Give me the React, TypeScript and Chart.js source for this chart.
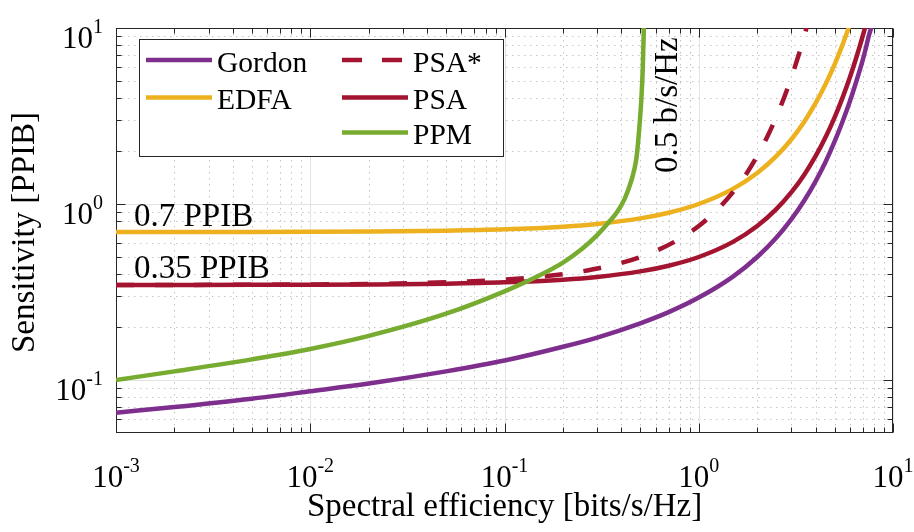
import { useEffect, useRef } from "react";
import { Chart, registerables } from "chart.js";

Chart.register(...registerables);

// Spectral efficiency [bits/s/Hz] and sensitivity [PPIB] for each receiver
const gordonSE = [0.001, 0.002, 0.005, 0.01, 0.02, 0.05, 0.1, 0.2, 0.3, 0.5, 0.7, 1, 1.5, 2, 2.5, 3, 3.5, 4, 4.5, 5, 5.5, 6, 6.5, 7, 7.25, 7.5, 7.75, 8];
const gordonPPIB = [0.0652, 0.0702, 0.0783, 0.0863, 0.0955, 0.112, 0.129, 0.1545, 0.1743, 0.21, 0.243, 0.294, 0.387, 0.5, 0.64, 0.82, 1.051, 1.35, 1.738, 2.26, 2.945, 3.833, 5.046, 6.64, 7.7, 9.0, 10.19, 12.0];

const edfaSE = [0.001, 0.002, 0.005, 0.01, 0.02, 0.05, 0.1, 0.2, 0.3, 0.5, 0.7, 1, 1.5, 2, 2.5, 3, 3.5, 4, 4.5, 5, 5.5, 6];
const edfaPPIB = [0.693, 0.6936, 0.6943, 0.6956, 0.698, 0.7052, 0.7177, 0.7435, 0.7705, 0.8284, 0.8922, 1.0, 1.219, 1.5, 1.863, 2.333, 2.947, 3.75, 4.806, 6.2, 8.046, 10.5];

const psaStarSE = [0.001, 0.002, 0.005, 0.01, 0.02, 0.05, 0.1, 0.15, 0.2, 0.25, 0.35, 0.5, 0.75, 1, 1.25, 1.5, 1.75, 2, 2.25, 2.5, 2.75, 3, 3.25, 3.5, 3.75];
const psaStarPPIB = [0.3468, 0.347, 0.3478, 0.349, 0.3514, 0.3589, 0.3718, 0.3853, 0.3994, 0.4142, 0.4461, 0.5, 0.6095, 0.75, 0.9314, 1.167, 1.473, 1.875, 2.403, 3.1, 4.023, 5.25, 6.885, 9.071, 12.0];

const psaSE = [0.001, 0.002, 0.005, 0.01, 0.02, 0.05, 0.1, 0.2, 0.3, 0.5, 0.7, 1, 1.5, 2, 2.5, 3, 3.5, 4, 4.5, 5, 5.5, 6, 6.5, 7, 7.5];
const psaPPIB = [0.3467, 0.3468, 0.3472, 0.3478, 0.349, 0.3526, 0.3589, 0.3718, 0.3853, 0.4142, 0.4461, 0.5, 0.6095, 0.75, 0.9314, 1.167, 1.473, 1.875, 2.403, 3.1, 4.023, 5.25, 6.885, 9.071, 12.0];

const ppmSE = [0.001, 0.002, 0.005, 0.01, 0.02, 0.05, 0.1, 0.15, 0.2, 0.25, 0.3, 0.345, 0.38, 0.417, 0.45, 0.465, 0.4786, 0.495, 0.5077, 0.515, 0.52, 0.523];
const ppmPPIB = [0.1, 0.112, 0.131, 0.15, 0.178, 0.238, 0.319, 0.391, 0.465, 0.555, 0.666, 0.79, 0.9, 1.08, 1.36, 1.56, 1.85, 2.76, 4.14, 5.9, 8.7, 12.3];

const xDecades = [-3, -2, -1, 0, 1];
const yDecades = [-1, 0, 1];
const xMin = 0.001;
const xMax = 10;
const yMin = 0.05;
const yMax = 10;

const seriesNames = ["Gordon", "EDFA", "PSA*", "PSA", "PPM"];
const COLORS = {
  Gordon: "#7E2F8E",
  EDFA: "#EDB120",
  PSA: "#A2142F",
  PPM: "#77AC30",
};

const xTitle = "Spectral efficiency [bits/s/Hz]";
const yTitle = "Sensitivity [PPIB]";
const edfaNote = "0.7 PPIB";
const psaNote = "0.35 PPIB";
const ppmNote = "0.5 b/s/Hz";

const SERIF = '"Liberation Serif", "Times New Roman", serif';
const AXIS_COLOR = "#262626";
const LINE_W = 4.5;

function pts(xs: number[], ys: number[]) {
  return xs.map((x, i) => ({ x, y: ys[i] }));
}

function minorValues(lo: number, hi: number) {
  const out: number[] = [];
  for (let d = -4; d <= 1; d++) {
    for (let m = 2; m <= 9; m++) {
      const v = m * Math.pow(10, d);
      if (v > lo * 1.0001 && v < hi * 0.9999) out.push(v);
    }
  }
  return out;
}

function powerLabel(ctx: CanvasRenderingContext2D, exp: number) {
  ctx.font = `31px ${SERIF}`;
  const wb = ctx.measureText("10").width;
  ctx.font = `20px ${SERIF}`;
  const we = ctx.measureText(String(exp)).width;
  return { wb, we, total: wb + we };
}

function drawPower(ctx: CanvasRenderingContext2D, exp: number, left: number, baseline: number) {
  const m = powerLabel(ctx, exp);
  ctx.fillStyle = "#000";
  ctx.textAlign = "left";
  ctx.textBaseline = "alphabetic";
  ctx.font = `31px ${SERIF}`;
  ctx.fillText("10", left, baseline);
  ctx.font = `20px ${SERIF}`;
  ctx.fillText(String(exp), left + m.wb, baseline - 15);
}

const framePlugin = {
  id: "frame",
  beforeDatasetsDraw(chart: any) {
    const { ctx, chartArea: a, scales } = chart;
    const sx = scales.x;
    const sy = scales.y;
    const px = (v: number) => Math.round(sx.getPixelForValue(v)) + 0.5;
    const py = (v: number) => Math.round(sy.getPixelForValue(v)) + 0.5;
    ctx.save();
    ctx.fillStyle = "#fff";
    ctx.fillRect(a.left, a.top, a.right - a.left, a.bottom - a.top);

    // minor grid (dotted)
    ctx.strokeStyle = "#c4c4c4";
    ctx.lineWidth = 1;
    ctx.setLineDash([1.5, 4.5]);
    ctx.beginPath();
    for (const v of minorValues(xMin, xMax)) {
      const x = px(v);
      ctx.moveTo(x, a.top);
      ctx.lineTo(x, a.bottom);
    }
    for (const v of minorValues(yMin, yMax)) {
      const y = py(v);
      ctx.moveTo(a.left, y);
      ctx.lineTo(a.right, y);
    }
    ctx.stroke();

    // major grid (solid)
    ctx.setLineDash([]);
    ctx.strokeStyle = "#e3e3e3";
    ctx.beginPath();
    for (const d of xDecades) {
      const x = px(Math.pow(10, d));
      ctx.moveTo(x, a.top);
      ctx.lineTo(x, a.bottom);
    }
    for (const d of yDecades) {
      const y = py(Math.pow(10, d));
      ctx.moveTo(a.left, y);
      ctx.lineTo(a.right, y);
    }
    ctx.stroke();

    // axes box
    ctx.strokeStyle = AXIS_COLOR;
    const L = Math.round(a.left) + 0.5;
    const R = Math.round(a.right) - 0.5;
    const T = Math.round(a.top) + 0.5;
    const B = Math.round(a.bottom) - 0.5;
    ctx.strokeRect(L, T, R - L, B - T);

    // inward ticks on all four sides
    ctx.beginPath();
    const tick = (len: number, v: number, isX: boolean) => {
      if (isX) {
        const x = px(v);
        ctx.moveTo(x, B);
        ctx.lineTo(x, B - len);
        ctx.moveTo(x, T);
        ctx.lineTo(x, T + len);
      } else {
        const y = py(v);
        ctx.moveTo(L, y);
        ctx.lineTo(L + len, y);
        ctx.moveTo(R, y);
        ctx.lineTo(R - len, y);
      }
    };
    for (const v of minorValues(xMin, xMax)) tick(5, v, true);
    for (const d of xDecades) tick(9, Math.pow(10, d), true);
    for (const v of minorValues(yMin, yMax)) tick(5, v, false);
    for (const d of yDecades) tick(9, Math.pow(10, d), false);
    ctx.stroke();
    ctx.restore();
  },
  afterDatasetsDraw(chart: any) {
    const { ctx, chartArea: a, scales } = chart;
    const sx = scales.x;
    const sy = scales.y;
    ctx.save();

    // tick labels
    for (const d of xDecades) {
      const x = sx.getPixelForValue(Math.pow(10, d));
      const m = powerLabel(ctx, d);
      drawPower(ctx, d, x - m.total / 2, 487);
    }
    for (const d of yDecades) {
      const y = sy.getPixelForValue(Math.pow(10, d));
      const m = powerLabel(ctx, d);
      drawPower(ctx, d, 103 - m.total, y + 19.5);
    }

    // axis titles
    ctx.fillStyle = "#000";
    ctx.font = `33px ${SERIF}`;
    ctx.textAlign = "center";
    ctx.textBaseline = "alphabetic";
    ctx.fillText(xTitle, (a.left + a.right) / 2, 516);
    ctx.save();
    ctx.translate(34, (a.top + a.bottom) / 2 + 2);
    ctx.rotate(-Math.PI / 2);
    ctx.fillText(yTitle, 0, 0);
    ctx.restore();

    // curve annotations
    ctx.textAlign = "left";
    ctx.fillText(edfaNote, 134, 226);
    ctx.fillText(psaNote, 134, 278);
    ctx.save();
    ctx.translate(677, 173);
    ctx.rotate(-Math.PI / 2);
    ctx.fillText(ppmNote, 0, 0);
    ctx.restore();

    // legend (two columns, column-major)
    const bx = 139.5, by = 39.5, bw = 364, bh = 117;
    ctx.fillStyle = "#fff";
    ctx.fillRect(bx, by, bw, bh);
    ctx.strokeStyle = AXIS_COLOR;
    ctx.lineWidth = 1;
    ctx.strokeRect(bx, by, bw, bh);
    const rows = [60, 97.5, 132.5];
    const entries = [
      { name: "Gordon", color: COLORS.Gordon, col: 0, row: 0, dash: false },
      { name: "EDFA", color: COLORS.EDFA, col: 0, row: 1, dash: false },
      { name: "PSA*", color: COLORS.PSA, col: 1, row: 0, dash: true },
      { name: "PSA", color: COLORS.PSA, col: 1, row: 1, dash: false },
      { name: "PPM", color: COLORS.PPM, col: 1, row: 2, dash: false },
    ];
    ctx.font = `29.5px ${SERIF}`;
    ctx.textBaseline = "alphabetic";
    for (const e of entries) {
      const x0 = e.col === 0 ? 146 : 342;
      const y = rows[e.row];
      ctx.strokeStyle = e.color;
      ctx.lineWidth = LINE_W;
      ctx.setLineDash(e.dash ? [20, 20] : []);
      ctx.beginPath();
      ctx.moveTo(x0, y);
      ctx.lineTo(x0 + 66, y);
      ctx.stroke();
      ctx.setLineDash([]);
      ctx.fillStyle = "#000";
      ctx.fillText(e.name, x0 + 71, y + 11.5);
    }
    ctx.restore();
  },
};

export default function App() {
  const ref = useRef<HTMLCanvasElement>(null);

  useEffect(() => {
    document.body.style.margin = "0";
    const canvas = ref.current;
    if (!canvas) return;
    const line = (label: string, data: any[], color: string, dashed = false) => ({
      label,
      data,
      showLine: true,
      borderColor: color,
      backgroundColor: color,
      borderWidth: LINE_W,
      borderDash: dashed ? [18, 21] : [],
      pointRadius: 0,
      pointHoverRadius: 0,
      cubicInterpolationMode: "monotone" as const,
      fill: false,
    });
    // first dataset is painted last, so PPM sits on top
    const chart = new Chart(canvas, {
      type: "scatter",
      data: {
        datasets: [
          line(seriesNames[4], pts(ppmSE, ppmPPIB), COLORS.PPM),
          line(seriesNames[3], pts(psaSE, psaPPIB), COLORS.PSA),
          line(seriesNames[2], pts(psaStarSE, psaStarPPIB), COLORS.PSA, true),
          line(seriesNames[1], pts(edfaSE, edfaPPIB), COLORS.EDFA),
          line(seriesNames[0], pts(gordonSE, gordonPPIB), COLORS.Gordon),
        ],
      },
      options: {
        animation: false,
        responsive: false,
        devicePixelRatio: 1,
        layout: { padding: { left: 116, right: 21, top: 28, bottom: 99 } },
        scales: {
          x: { type: "logarithmic", min: xMin, max: xMax, display: false },
          y: { type: "logarithmic", min: yMin, max: yMax, display: false },
        },
        plugins: {
          legend: { display: false },
          tooltip: { enabled: false },
        },
        events: [],
      },
      plugins: [framePlugin],
    });
    return () => chart.destroy();
  }, []);

  return (
    <div style={{ position: "fixed", left: 0, top: 0, width: 914, height: 532, background: "#fff" }}>
      <canvas ref={ref} width={914} height={532} style={{ display: "block", width: 914, height: 532 }} />
    </div>
  );
}
